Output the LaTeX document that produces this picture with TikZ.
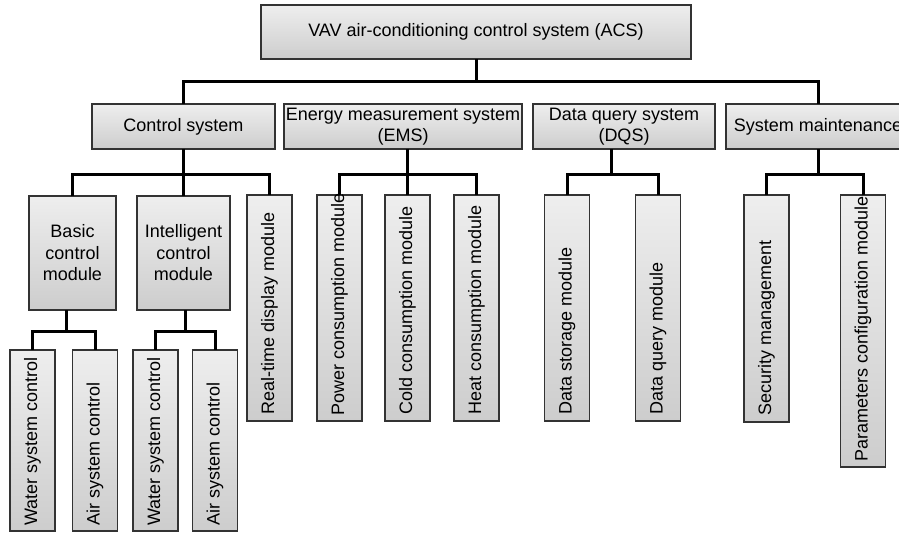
\documentclass[tikz,border=0pt]{standalone}
\usepackage{fontspec}
\setmainfont{Liberation Sans}
\definecolor{boxtop}{HTML}{EEEEEE}
\definecolor{boxbot}{HTML}{CDCDCD}
\definecolor{boxline}{HTML}{333333}
\begin{document}
\begin{tikzpicture}[x=1bp,y=-1bp,
  box/.style={draw=boxline, line width=1.3bp, top color=boxtop, bottom color=boxbot,
    inner sep=0pt, outer sep=0pt, align=center,
    font=\fontsize{18bp}{21.5bp}\selectfont},
  conn/.style={line width=3bp, black},
  vtext/.style={rotate=90, anchor=west, inner sep=0pt,
    font=\fontsize{18bp}{21.5bp}\selectfont},
  hbox/.style={box, minimum height=45bp},
  vbox/.style={box, minimum width=45bp}]
\useasboundingbox (0,0) rectangle (899,534);
% level 1
\node[box, minimum width=430bp, minimum height=54bp] (acs) at (476,32) {VAV air-conditioning control system (ACS)};
% level 2
\node[hbox, minimum width=183bp] (cs) at (183.5,126.5) {Control system};
\node[hbox, minimum width=238bp] (ems) at (403,126.5) {Energy measurement system\\(EMS)};
\node[hbox, minimum width=182bp] (dqs) at (624,126.5) {Data query system\\(DQS)};
\node[hbox, minimum width=184bp] (sm) at (818,126.5) {System maintenance};
% level 3
\node[box, minimum width=87bp, minimum height=114bp] (basic) at (72.5,253) {Basic\\control\\module};
\node[box, minimum width=93bp, minimum height=114bp] (intel) at (183.5,253) {Intelligent\\control\\module};
\node[vbox, minimum height=226bp] (rt) at (269.5,308) {};
\node[vbox, minimum height=226bp] (pw) at (339.5,308) {};
\node[vbox, minimum height=226bp] (cold) at (407.5,308) {};
\node[vbox, minimum height=226bp] (heat) at (476.5,308) {};
\node[vbox, minimum height=226bp] (ds) at (567,308) {};
\node[vbox, minimum height=226bp] (dq) at (658,308) {};
\node[vbox, minimum height=227bp] (sec) at (766.5,308.5) {};
\node[vbox, minimum height=272bp] (par) at (863,331) {};
% level 4
\node[vbox, minimum height=181bp] (w1) at (32.5,440.5) {};
\node[vbox, minimum height=181bp] (a1) at (95,440.5) {};
\node[vbox, minimum height=181bp] (w2) at (155.5,440.5) {};
\node[vbox, minimum height=181bp] (a2) at (215,440.5) {};
% vertical texts
\node[vtext] (trt) at ([yshift=6bp]rt.south) {Real-time display module};
\node[vtext] (tpw) at ([yshift=5bp]pw.south) {Power consumption module};
\node[vtext] (tcold) at ([yshift=6bp]cold.south) {Cold consumption module};
\node[vtext] (theat) at ([yshift=6bp]heat.south) {Heat consumption module};
\node[vtext] (tds) at ([yshift=6bp]ds.south) {Data storage module};
\node[vtext] (tdq) at ([yshift=6bp]dq.south) {Data query module};
\node[vtext] (tsec) at ([yshift=6bp]sec.south) {Security management};
\node[vtext] (tpar) at ([yshift=5bp]par.south) {Parameters configuration module};
\node[vtext] (tw1) at ([yshift=5bp]w1.south) {Water system control};
\node[vtext] (ta1) at ([yshift=5bp]a1.south) {Air system control};
\node[vtext] (tw2) at ([yshift=5bp]w2.south) {Water system control};
\node[vtext] (ta2) at ([yshift=5bp]a2.south) {Air system control};
% bus coordinates
\coordinate (bus) at (476,82);
\coordinate (csb) at (183.5,175);
\coordinate (emsb) at (407.5,175);
\coordinate (dqsb) at (611,175);
\coordinate (smb) at (818,175);
\coordinate (bb) at (66,331);
\coordinate (ib) at (185,331);
% connectors
\draw[conn] (acs.south) -- (bus);
\draw[conn] (cs.north) |- (bus) -| (sm.north);
\draw[conn] (cs.south) -- (intel.north);
\draw[conn] (basic.north) |- (csb) -| (rt.north);
\draw[conn] (ems.south -| cold.north) -- (cold.north);
\draw[conn] (pw.north) |- (emsb) -| (heat.north);
\draw[conn] (dqs.south -| dqsb) -- (dqsb);
\draw[conn] (ds.north) |- (dqsb) -| (dq.north);
\draw[conn] (sm.south) -- (smb);
\draw[conn] (sec.north) |- (smb) -| (par.north);
\draw[conn] (basic.south -| bb) -- (bb);
\draw[conn] (w1.north) |- (bb) -| (a1.north);
\draw[conn] (intel.south -| ib) -- (ib);
\draw[conn] (w2.north) |- (ib) -| (a2.north);
\end{tikzpicture}
\end{document}
